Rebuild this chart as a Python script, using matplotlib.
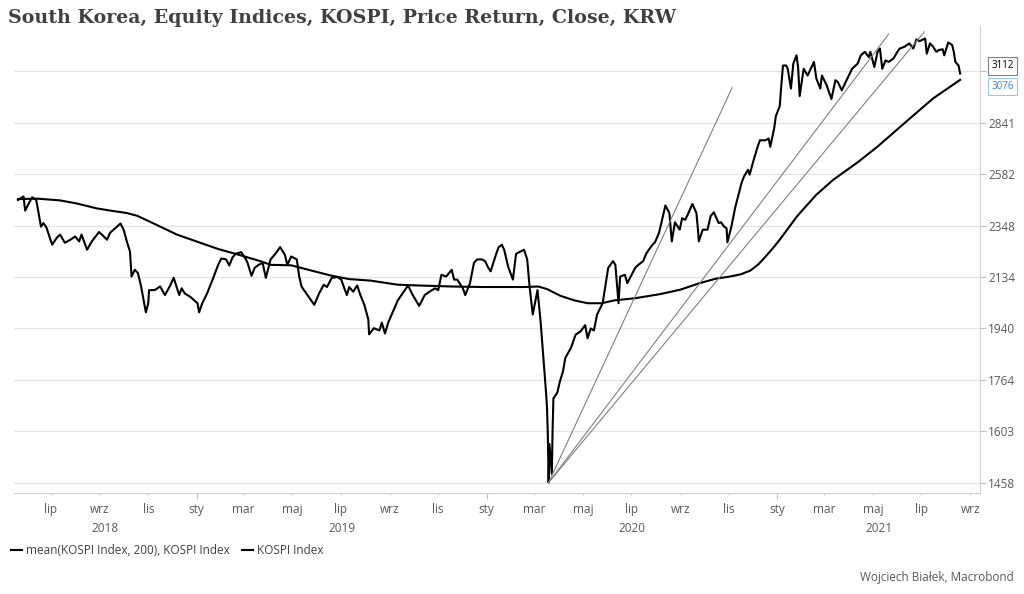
import matplotlib
matplotlib.use("Agg")
import matplotlib.pyplot as plt
import matplotlib.dates as mdates
import matplotlib.transforms as mtransforms
from matplotlib.ticker import NullLocator, FuncFormatter
import pandas as pd

plt.rcParams['font.family'] = ['Open Sans', 'DejaVu Sans']

# KOSPI close (one line per month)
kospi_dates = [
    "2018-05-21", "2018-05-28", "2018-05-30",
    "2018-06-04", "2018-06-08", "2018-06-13", "2018-06-19", "2018-06-22", "2018-06-26",
    "2018-07-03", "2018-07-09", "2018-07-13", "2018-07-19", "2018-07-26",
    "2018-08-01", "2018-08-06", "2018-08-09", "2018-08-16", "2018-08-22", "2018-08-31",
    "2018-09-06", "2018-09-10", "2018-09-14", "2018-09-21", "2018-09-27",
    "2018-10-01", "2018-10-05", "2018-10-09", "2018-10-11", "2018-10-15", "2018-10-19", "2018-10-23", "2018-10-29",
    "2018-11-01", "2018-11-02", "2018-11-09", "2018-11-16", "2018-11-22", "2018-11-28",
    "2018-12-03", "2018-12-10", "2018-12-13", "2018-12-17", "2018-12-24",
    "2019-01-02", "2019-01-04", "2019-01-08", "2019-01-14", "2019-01-21", "2019-01-28",
    "2019-02-01", "2019-02-07", "2019-02-11", "2019-02-15", "2019-02-19", "2019-02-26",
    "2019-03-04", "2019-03-06", "2019-03-11", "2019-03-15", "2019-03-20", "2019-03-25", "2019-03-29",
    "2019-04-04", "2019-04-10", "2019-04-16", "2019-04-22", "2019-04-25", "2019-04-30",
    "2019-05-07", "2019-05-10", "2019-05-13", "2019-05-16", "2019-05-22", "2019-05-29",
    "2019-06-04", "2019-06-10", "2019-06-14", "2019-06-20", "2019-06-27",
    "2019-07-02", "2019-07-05", "2019-07-09", "2019-07-12", "2019-07-17", "2019-07-22", "2019-07-26", "2019-07-31",
    "2019-08-05", "2019-08-06", "2019-08-12", "2019-08-19", "2019-08-22", "2019-08-26", "2019-08-30",
    "2019-09-05", "2019-09-11", "2019-09-17", "2019-09-24", "2019-09-30",
    "2019-10-08", "2019-10-11", "2019-10-15", "2019-10-21", "2019-10-28",
    "2019-11-01", "2019-11-05", "2019-11-11", "2019-11-18", "2019-11-21", "2019-11-25",
    "2019-12-02", "2019-12-05", "2019-12-11", "2019-12-16", "2019-12-20", "2019-12-26", "2019-12-30",
    "2020-01-03", "2020-01-06", "2020-01-13", "2020-01-16", "2020-01-20", "2020-01-23", "2020-01-28",
    "2020-02-03", "2020-02-07", "2020-02-17", "2020-02-21", "2020-02-24", "2020-02-28",
    "2020-03-05", "2020-03-09", "2020-03-16", "2020-03-17", "2020-03-18", "2020-03-19", "2020-03-20",
    "2020-03-23", "2020-03-24", "2020-03-25", "2020-03-30",
    "2020-04-02", "2020-04-06", "2020-04-09", "2020-04-16", "2020-04-22", "2020-04-28",
    "2020-05-04", "2020-05-07", "2020-05-11", "2020-05-15", "2020-05-19", "2020-05-26",
    "2020-06-02", "2020-06-08", "2020-06-11", "2020-06-15", "2020-06-17", "2020-06-23", "2020-06-26",
    "2020-07-06", "2020-07-10", "2020-07-16", "2020-07-20", "2020-07-27", "2020-07-31",
    "2020-08-05", "2020-08-10", "2020-08-13", "2020-08-18", "2020-08-21", "2020-08-25", "2020-08-31",
    "2020-09-03", "2020-09-07", "2020-09-11", "2020-09-16", "2020-09-21", "2020-09-23", "2020-09-24", "2020-09-29",
    "2020-10-05", "2020-10-09", "2020-10-13", "2020-10-19", "2020-10-22", "2020-10-26", "2020-10-29", "2020-10-30",
    "2020-11-04", "2020-11-09", "2020-11-13", "2020-11-17", "2020-11-20", "2020-11-25", "2020-11-27",
    "2020-12-02", "2020-12-07", "2020-12-10", "2020-12-17", "2020-12-21", "2020-12-23", "2020-12-28", "2020-12-30",
    "2021-01-04", "2021-01-05", "2021-01-08", "2021-01-12", "2021-01-14", "2021-01-18", "2021-01-21", "2021-01-25", "2021-01-27", "2021-01-29",
    "2021-02-03", "2021-02-08", "2021-02-10", "2021-02-16", "2021-02-19", "2021-02-24", "2021-02-26",
    "2021-03-04", "2021-03-10", "2021-03-15", "2021-03-18", "2021-03-23", "2021-03-29",
    "2021-04-05", "2021-04-12", "2021-04-16", "2021-04-21", "2021-04-26", "2021-04-28",
    "2021-05-03", "2021-05-07", "2021-05-10", "2021-05-13", "2021-05-17", "2021-05-21", "2021-05-27",
    "2021-06-01", "2021-06-04", "2021-06-10", "2021-06-16", "2021-06-21", "2021-06-25", "2021-06-29",
    "2021-07-06", "2021-07-08", "2021-07-12", "2021-07-16", "2021-07-20", "2021-07-23", "2021-07-28", "2021-07-30",
    "2021-08-04", "2021-08-09", "2021-08-11", "2021-08-13", "2021-08-17", "2021-08-19",
]
kospi_close = [
    2462, 2478, 2414,
    2449, 2474, 2462, 2343, 2359, 2338,
    2266, 2296, 2309, 2274, 2287,
    2301, 2280, 2309, 2245, 2280, 2320,
    2301, 2287, 2317, 2338, 2357,
    2330, 2280, 2237, 2136, 2163, 2150, 2097, 1999,
    2033, 2083, 2083, 2097, 2064, 2097,
    2131, 2064, 2090, 2070, 2057,
    2033, 1999, 2033, 2070, 2124, 2183,
    2209, 2205, 2180, 2213, 2228, 2235,
    2205, 2191, 2139, 2171, 2183, 2191, 2131,
    2205, 2228, 2256, 2224, 2183, 2217,
    2205, 2136, 2097, 2083, 2057, 2027,
    2070, 2104, 2095, 2131, 2134,
    2124, 2097, 2064, 2095, 2077, 2101, 2064, 2027,
    1973, 1919, 1941, 1933, 1961, 1922, 1961,
    2002, 2043, 2070, 2101, 2064,
    2023, 2040, 2064, 2077, 2090,
    2083, 2143, 2136, 2163, 2124, 2124,
    2090, 2064, 2110, 2191, 2205, 2205, 2198,
    2171, 2157, 2228, 2255, 2266, 2245, 2176,
    2124, 2228, 2245, 2205, 2097, 1991,
    2083, 1961, 1714, 1672, 1591, 1458, 1566,
    1482, 1609, 1704, 1723,
    1757, 1791, 1837, 1871, 1918, 1929,
    1952, 1905, 1940, 1933, 1991, 2033,
    2171, 2198, 2183, 2033, 2136, 2143, 2110,
    2171, 2183, 2198, 2230, 2263, 2277,
    2317, 2390, 2437, 2403, 2280, 2362, 2330,
    2380, 2373, 2403, 2444, 2403, 2330, 2280, 2330,
    2330, 2390, 2406, 2359, 2362, 2343, 2336, 2276,
    2343, 2430, 2486, 2543, 2572, 2604, 2580,
    2650, 2717, 2750, 2750, 2759, 2717, 2814, 2876,
    2931, 2996, 3159, 3159, 3140, 3027, 3170, 3219, 3150, 2985,
    3140, 3101, 3121, 3180, 3083, 3027, 3101,
    3045, 2969, 3074, 3064, 3017, 3074,
    3140, 3170, 3219, 3240, 3209, 3240,
    3150, 3240, 3260, 3140, 3189, 3180, 3200,
    3240, 3260, 3271, 3291, 3260, 3316, 3305,
    3321, 3229, 3291, 3271, 3240, 3250, 3256, 3219,
    3297, 3281, 3240, 3180, 3159, 3112,
]

# 200-day mean of KOSPI
ma_dates = [
    "2018-05-21", "2018-06-14", "2018-07-13", "2018-08-03", "2018-08-28", "2018-09-14",
    "2018-10-05", "2018-10-18", "2018-11-12", "2018-12-07", "2019-01-03", "2019-01-28",
    "2019-02-22", "2019-03-22", "2019-04-04", "2019-04-30", "2019-05-24", "2019-06-19",
    "2019-07-12", "2019-08-08", "2019-09-11", "2019-10-07", "2019-11-18", "2019-12-27",
    "2020-02-17", "2020-03-06", "2020-03-17", "2020-04-03", "2020-04-20", "2020-05-07",
    "2020-05-25", "2020-06-10", "2020-07-06", "2020-08-07", "2020-09-01", "2020-09-25",
    "2020-10-16", "2020-11-02", "2020-11-16", "2020-11-28", "2020-12-08", "2020-12-18",
    "2020-12-28", "2021-01-05", "2021-01-26", "2021-02-19", "2021-03-12", "2021-04-12",
    "2021-05-07", "2021-06-13", "2021-07-16", "2021-08-19",
]
ma_values = [
    2466, 2468, 2460, 2446, 2424, 2414,
    2403, 2391, 2350, 2309, 2277, 2248,
    2225, 2198, 2183, 2181, 2161, 2140,
    2126, 2120, 2104, 2101, 2097, 2095,
    2095, 2097, 2087, 2061, 2044, 2033,
    2033, 2044, 2052, 2068, 2085, 2110,
    2128, 2136, 2145, 2160, 2185, 2220,
    2258, 2292, 2390, 2486, 2555, 2640,
    2718, 2850, 2972, 3076,
]

# hand-drawn trend lines from the March 2020 low
trend_start_date = "2020-03-19"
trend_start_value = 1458
trend_end_dates = ["2020-11-05", "2021-05-21", "2021-07-05"]
trend_end_values = [3032, 3348, 3363]

ytick_values = [1458, 1603, 1764, 1940, 2134, 2348, 2582, 2841, 3125]
ytick_labels = ["1458", "1603", "1764", "1940", "2134", "2348", "2582", "2841", ""]
month_names = {1: "sty", 3: "mar", 5: "maj", 7: "lip", 9: "wrz", 11: "lis"}
years = [2018, 2019, 2020, 2021]

kospi_x = pd.to_datetime(kospi_dates)
ma_x = pd.to_datetime(ma_dates)

fig = plt.figure(figsize=(10.24, 5.94), dpi=100)
ax = fig.add_axes([14 / 1024, 101 / 594, 966 / 1024, 467 / 594])

ax.plot(ma_x, ma_values, color="black", lw=1.5,
        label="mean(KOSPI Index, 200), KOSPI Index")
ax.plot(kospi_x, kospi_close, color="black", lw=1.5, label="KOSPI Index")
for d, v in zip(trend_end_dates, trend_end_values):
    ax.plot(pd.to_datetime([trend_start_date, d]), [trend_start_value, v],
            color="#808080", lw=0.8)

x0 = pd.Timestamp("2018-05-16")
x1 = pd.Timestamp("2021-09-13")
ax.set_xlim(x0, x1)
ax.set_yscale("log")
ax.set_ylim(1430, 3399)

# y axis on the right
ax.yaxis.tick_right()
ax.set_yticks(ytick_values)
ax.set_yticklabels(ytick_labels)
ax.yaxis.set_minor_locator(NullLocator())
ax.tick_params(axis="y", length=4, color="#bfbfbf", labelcolor="#595959",
               labelsize=8.5, pad=2)
ax.grid(axis="y", color="#e3e3e3", lw=0.9)

# x axis: months every 2, january as major
ax.xaxis.set_major_locator(mdates.MonthLocator(bymonth=1))
ax.xaxis.set_minor_locator(mdates.MonthLocator(bymonth=[3, 5, 7, 9, 11]))
fmt = FuncFormatter(lambda v, pos: month_names[mdates.num2date(v).month])
ax.xaxis.set_major_formatter(fmt)
ax.xaxis.set_minor_formatter(fmt)
ax.tick_params(axis="x", which="major", length=4, pad=3, color="#bfbfbf",
               labelcolor="#595959", labelsize=8.5)
ax.tick_params(axis="x", which="minor", length=1.5, pad=5.5, color="#bfbfbf",
               labelcolor="#595959", labelsize=8.5)

for s in ["top", "left"]:
    ax.spines[s].set_visible(False)
for s in ["right", "bottom"]:
    ax.spines[s].set_color("#d0d0d0")
    ax.spines[s].set_linewidth(0.8)

# year labels centred on the visible part of each year
trans = mtransforms.blended_transform_factory(ax.transData, ax.transAxes)
for y in years:
    a = max(pd.Timestamp(f"{y}-01-01"), x0)
    b = min(pd.Timestamp(f"{y + 1}-01-01"), x1)
    mid = a + (b - a) / 2
    ax.text(mid, -0.075, str(y), transform=trans, ha="center", va="center",
            fontsize=8.5, color="#595959")

# last value callouts
ax.annotate("3112", xy=(1.0, kospi_close[-1]), xycoords=("axes fraction", "data"),
            xytext=(8, 5.5), textcoords="offset points", fontsize=7,
            color="black", va="center", ha="left", annotation_clip=False,
            bbox=dict(boxstyle="square,pad=0.35", fc="white", ec="#808080", lw=0.8))
ax.annotate("3076", xy=(1.0, ma_values[-1]), xycoords=("axes fraction", "data"),
            xytext=(8, -4.8), textcoords="offset points", fontsize=7,
            color="#3a86d6", va="center", ha="left", annotation_clip=False,
            bbox=dict(boxstyle="square,pad=0.35", fc="white", ec="#9cc3ec", lw=0.8))

fig.text(8 / 1024, 1 - 18 / 594, "South Korea, Equity Indices, KOSPI, Price Return, Close, KRW",
         fontsize=13.7, fontweight="bold", family="DejaVu Serif", color="#404040",
         va="center", ha="left")

fig.legend(loc="center left", bbox_to_anchor=(0.0, 1 - 551 / 594), ncol=2,
           frameon=False, handlelength=1.0, handletextpad=0.3, columnspacing=1.0,
           fontsize=8.5, labelcolor="#404040")

fig.text(1014 / 1024, 1 - 577 / 594, "Wojciech Białek, Macrobond", fontsize=8.5,
         color="#595959", ha="right", va="center")

fig.savefig("out.png", dpi=100)
